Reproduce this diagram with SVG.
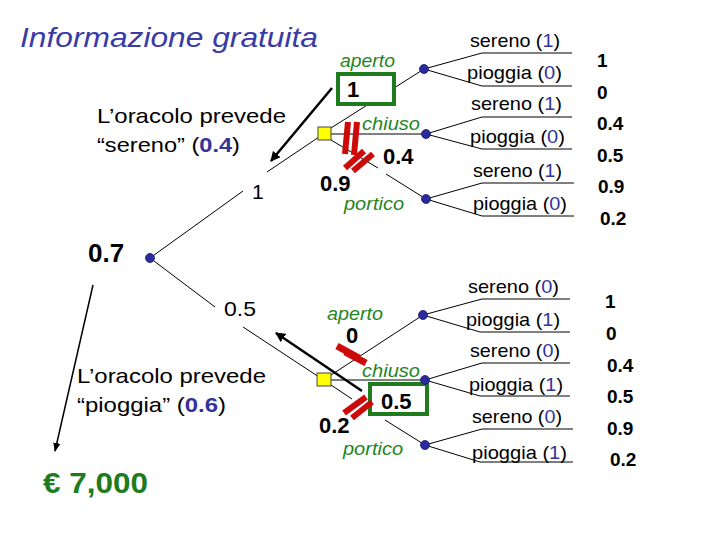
<svg xmlns="http://www.w3.org/2000/svg" width="720" height="540" viewBox="0 0 720 540">
<style>
text{font-family:"Liberation Sans",Arial,sans-serif;fill:#000}
.t{font-size:28px;font-style:italic;fill:#3b3ba8}
.lbl{font-size:21px}
.g{font-size:18px;font-style:italic;fill:#1f861f}
.o{font-size:19px}
.b{fill:#333399}
.bb{fill:#333399;font-weight:bold}
.v{font-size:19px;font-weight:bold}
.tv{font-size:22px;font-weight:bold}
.ln{stroke:#000;stroke-width:1;fill:none}
.arr{stroke:#000;fill:none;marker-end:url(#ah)}
.red{stroke:#cc0a0a;stroke-width:6;stroke-linecap:butt}
.sq{fill:#ffff00;stroke:#444;stroke-width:1}
.cn{fill:#2b2b9b;stroke:#1a1a70;stroke-width:0.8}
.box{fill:#fff;stroke:#1e7b1e;stroke-width:4}
</style>
<defs>
<marker id="ah" viewBox="0 0 10 10" refX="9" refY="5" markerWidth="4" markerHeight="4" orient="auto" markerUnits="strokeWidth">
<path d="M0,0 L10,5 L0,10 z" fill="#000"/>
</marker>
<marker id="ah2" viewBox="0 0 10 10" refX="9" refY="5" markerWidth="6" markerHeight="6" orient="auto" markerUnits="strokeWidth">
<path d="M0,1 L10,5 L0,9 z" fill="#000"/>
</marker>
</defs>
<rect width="720" height="540" fill="#fff"/>
<text class="t" x="20" y="47" textLength="298" lengthAdjust="spacingAndGlyphs">Informazione gratuita</text>

<g id="connectors">
<polyline class="ln" points="150,258 243,191"/>
<polyline class="ln" points="267,172 319,137"/>
<polyline class="ln" points="150,258 215,307"/>
<polyline class="ln" points="243,327 319,377"/>
<polyline class="ln" points="331,128 424,69"/>
<polyline class="ln" points="331,134 426,134"/>
<polyline class="ln" points="331,140 378,168"/>
<polyline class="ln" points="386,174 426,199"/>
<polyline class="ln" points="424,69 482,53 572,53"/>
<polyline class="ln" points="424,69 482,86 572,86"/>
<polyline class="ln" points="426,134 482,117 572,117"/>
<polyline class="ln" points="426,134 482,149 572,149"/>
<polyline class="ln" points="426,199 482,183 574,183"/>
<polyline class="ln" points="426,199 482,216 574,216"/>
<polyline class="ln" points="331,375 423,315"/>
<polyline class="ln" points="331,380 425,380"/>
<polyline class="ln" points="331,385 352,399"/>
<polyline class="ln" points="385,420 425,445"/>
<polyline class="ln" points="423,315 482,299 570,299"/>
<polyline class="ln" points="423,315 480,332 570,332"/>
<polyline class="ln" points="425,380 482,363 570,363"/>
<polyline class="ln" points="425,380 480,396 570,396"/>
<polyline class="ln" points="425,445 482,429 573,429"/>
<polyline class="ln" points="425,445 480,462 573,462"/>
<line class="arr" x1="332" y1="88" x2="271" y2="161" stroke-width="2.5"/>
<line class="arr" x1="362" y1="391" x2="276" y2="333" stroke-width="2.5"/>
<line class="arr" x1="93" y1="285" x2="55" y2="451" stroke-width="1.5" style="marker-end:url(#ah2)"/>
</g>

<g id="root">
<circle class="cn" cx="150" cy="258" r="4.5"/>
<text x="88" y="262" style="font-size:26px;font-weight:bold">0.7</text>
</g>
<g id="label-sereno">
<text class="lbl" x="97" y="123" textLength="189" lengthAdjust="spacingAndGlyphs">L’oracolo prevede</text>
<text class="lbl" x="97" y="152" textLength="143" lengthAdjust="spacingAndGlyphs">“sereno” (<tspan class="bb">0.4</tspan>)</text>
<text class="lbl" x="252" y="199">1</text>
</g>
<g id="label-pioggia">
<text class="lbl" x="77" y="383" textLength="189" lengthAdjust="spacingAndGlyphs">L’oracolo prevede</text>
<text class="lbl" x="77" y="412" textLength="149" lengthAdjust="spacingAndGlyphs">“pioggia” (<tspan class="bb">0.6</tspan>)</text>
<text class="lbl" x="224" y="316" textLength="32" lengthAdjust="spacingAndGlyphs">0.5</text>
</g>
<g id="result">
<text x="43" y="493" textLength="105" lengthAdjust="spacingAndGlyphs" style="font-size:30px;font-weight:bold;fill:#1e7b1e">€ 7,000</text>
</g>

<g id="decision-top">
<rect class="box" x="338" y="74" width="56" height="30"/>
<text class="tv" x="347" y="97">1</text>
<rect class="sq" x="318" y="127" width="13" height="13"/>
<text class="g" x="340" y="67" textLength="55" lengthAdjust="spacingAndGlyphs">aperto</text>
<text class="g" x="362" y="130" textLength="58" lengthAdjust="spacingAndGlyphs">chiuso</text>
<text class="g" x="344" y="210" textLength="60" lengthAdjust="spacingAndGlyphs">portico</text>
<text class="tv" x="383" y="164">0.4</text>
<text class="tv" x="320" y="191">0.9</text>
<line class="red" x1="348" y1="122" x2="345" y2="154"/>
<line class="red" x1="357" y1="122" x2="354" y2="155"/>
<line class="red" x1="345" y1="168" x2="364" y2="151"/>
<line class="red" x1="353" y1="171" x2="373" y2="154"/>
</g>

<g id="decision-bottom">
<rect class="box" x="370" y="384" width="57" height="30"/>
<text class="tv" x="381" y="409">0.5</text>
<rect class="sq" x="317" y="373" width="14" height="13"/>
<text class="g" x="327" y="320" textLength="56" lengthAdjust="spacingAndGlyphs">aperto</text>
<text class="g" x="362" y="377" textLength="58" lengthAdjust="spacingAndGlyphs">chiuso</text>
<text class="g" x="343" y="455" textLength="60" lengthAdjust="spacingAndGlyphs">portico</text>
<text class="tv" x="346" y="343">0</text>
<text class="tv" x="319" y="433">0.2</text>
<line class="red" x1="337" y1="346" x2="359" y2="358" style="stroke-width:7"/>
<line class="red" x1="345" y1="352" x2="366" y2="363" style="stroke-width:7"/>
<line class="red" x1="344" y1="413" x2="366" y2="397"/>
<line class="red" x1="352" y1="418" x2="372" y2="402"/>
</g>

<g id="chance-top-1">
<circle class="cn" cx="424" cy="69" r="4.5"/>
<text class="o" x="470" y="47" textLength="90" lengthAdjust="spacingAndGlyphs">sereno (<tspan class="b">1</tspan>)</text>
<text class="o" x="467" y="79" textLength="95" lengthAdjust="spacingAndGlyphs">pioggia (<tspan class="b">0</tspan>)</text>
</g>
<g id="chance-top-2">
<circle class="cn" cx="426" cy="134" r="4.5"/>
<text class="o" x="471" y="110" textLength="91" lengthAdjust="spacingAndGlyphs">sereno (<tspan class="b">1</tspan>)</text>
<text class="o" x="470" y="143" textLength="95" lengthAdjust="spacingAndGlyphs">pioggia (<tspan class="b">0</tspan>)</text>
</g>
<g id="chance-top-3">
<circle class="cn" cx="426" cy="199" r="4.5"/>
<text class="o" x="473" y="177" textLength="89" lengthAdjust="spacingAndGlyphs">sereno (<tspan class="b">1</tspan>)</text>
<text class="o" x="473" y="210" textLength="94" lengthAdjust="spacingAndGlyphs">pioggia (<tspan class="b">0</tspan>)</text>
</g>
<g id="values-top">
<text class="v" x="597" y="67">1</text>
<text class="v" x="597" y="99">0</text>
<text class="v" x="597" y="130">0.4</text>
<text class="v" x="597" y="162">0.5</text>
<text class="v" x="598" y="193">0.9</text>
<text class="v" x="600" y="225">0.2</text>
</g>

<g id="chance-bottom-1">
<circle class="cn" cx="423" cy="315" r="4.5"/>
<text class="o" x="468" y="293" textLength="91" lengthAdjust="spacingAndGlyphs">sereno (<tspan class="b">0</tspan>)</text>
<text class="o" x="466" y="326" textLength="94" lengthAdjust="spacingAndGlyphs">pioggia (<tspan class="b">1</tspan>)</text>
</g>
<g id="chance-bottom-2">
<circle class="cn" cx="425" cy="380" r="4.5"/>
<text class="o" x="470" y="357" textLength="90" lengthAdjust="spacingAndGlyphs">sereno (<tspan class="b">0</tspan>)</text>
<text class="o" x="469" y="391" textLength="94" lengthAdjust="spacingAndGlyphs">pioggia (<tspan class="b">1</tspan>)</text>
</g>
<g id="chance-bottom-3">
<circle class="cn" cx="425" cy="445" r="4.5"/>
<text class="o" x="472" y="423" textLength="90" lengthAdjust="spacingAndGlyphs">sereno (<tspan class="b">0</tspan>)</text>
<text class="o" x="472" y="459" textLength="95" lengthAdjust="spacingAndGlyphs">pioggia (<tspan class="b">1</tspan>)</text>
</g>
<g id="values-bottom">
<text class="v" x="605" y="308">1</text>
<text class="v" x="606" y="340">0</text>
<text class="v" x="607" y="372">0.4</text>
<text class="v" x="607" y="403">0.5</text>
<text class="v" x="607" y="435">0.9</text>
<text class="v" x="610" y="466">0.2</text>
</g>
</svg>
